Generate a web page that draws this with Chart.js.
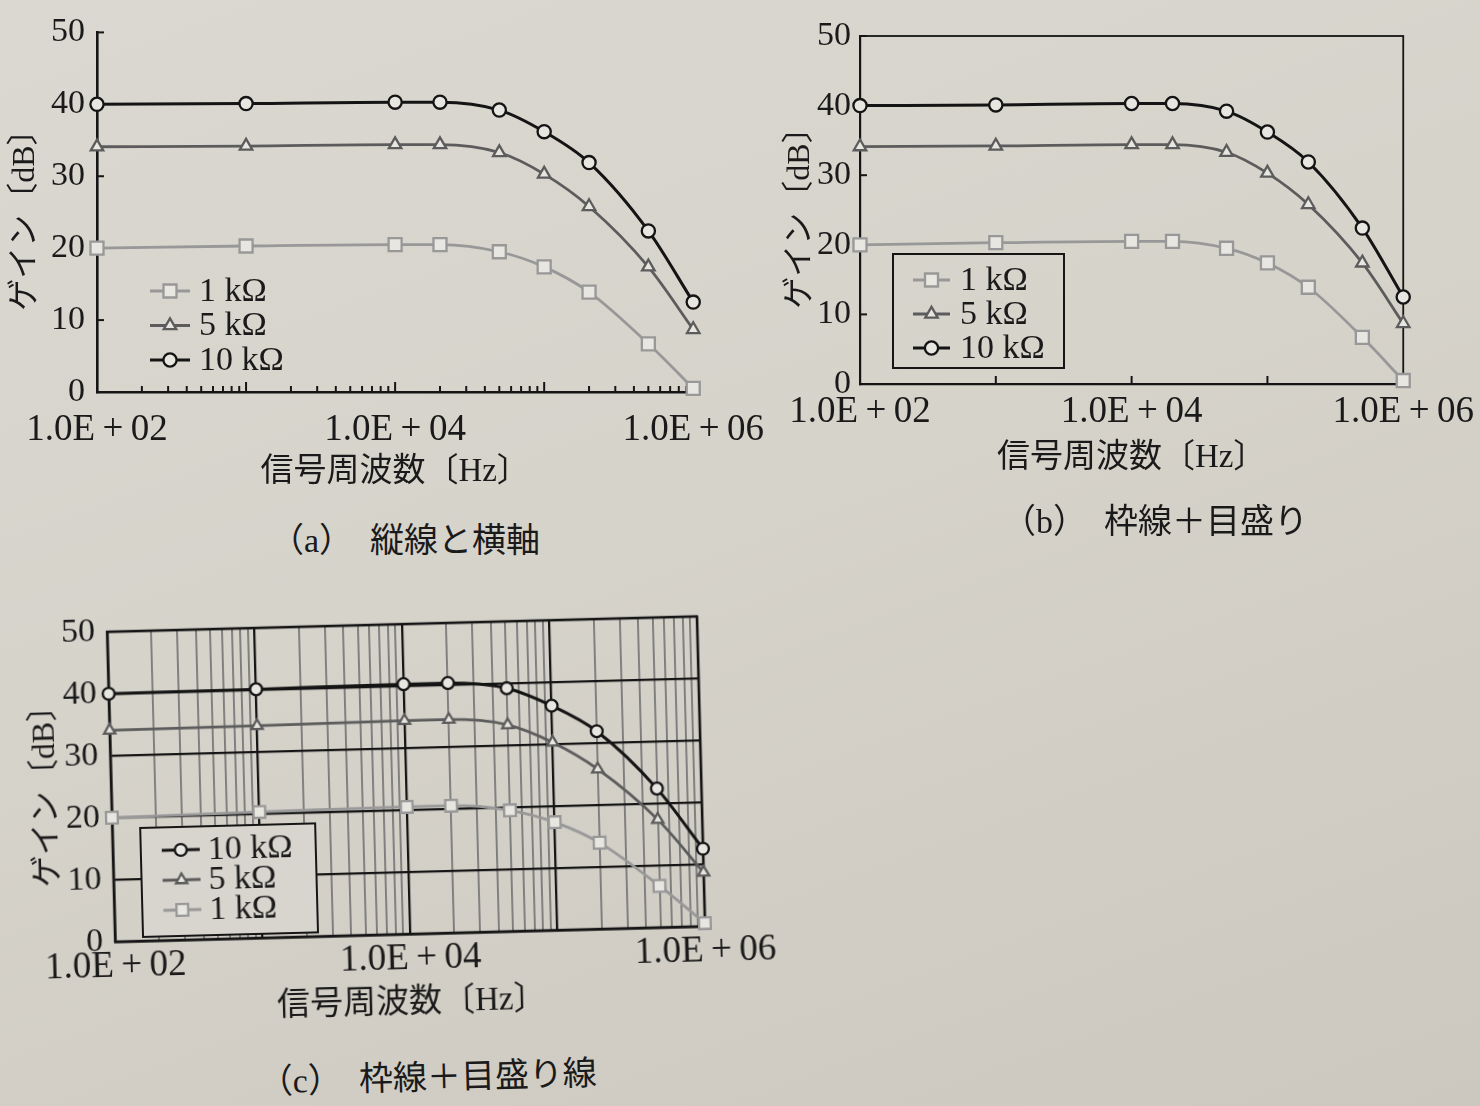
<!DOCTYPE html>
<html>
<head>
<meta charset="utf-8">
<script src="https://cdn.jsdelivr.net/npm/chart.js@4/dist/chart.umd.min.js"></script>
<style>
html,body{margin:0;padding:0;}
body{width:1480px;height:1106px;overflow:hidden;position:relative;
  background:linear-gradient(160deg,#dbd8d1 0%,#d6d3cb 45%,#ccc8c0 100%);}
.box{position:absolute;}
canvas{display:block;}
.cap{position:absolute;font-size:34px;font-family:'Liberation Serif','Noto Sans CJK JP',sans-serif;color:#1a1a1a;
  white-space:nowrap;transform:translate(-50%,-50%);}
</style>
</head>
<body>
<div class="box" style="left:0;top:0;width:780px;height:500px"><canvas id="ca" width="780" height="500"></canvas></div>
<div class="cap" style="left:405px;top:537px">（a）　縦線と横軸</div>

<div class="box" style="left:780px;top:0;width:700px;height:500px"><canvas id="cb" width="700" height="500"></canvas></div>
<div class="cap" style="left:1155px;top:518px">（b）　枠線＋目盛り</div>

<div class="box" id="boxc" style="left:0;top:570px;width:800px;height:530px;transform-origin:406px 209px;transform:rotate(-1.5deg)">
  <canvas id="cc" width="800" height="470"></canvas>
  <div class="cap" style="left:420px;top:505px">（c）　枠線＋目盛り線</div>
</div>

<script>
// ---------------- data ----------------
const freqHz  = [100, 1000, 10000, 20000, 50000, 100000, 200000, 500000, 1000000];
const gain10k = [40.0, 40.1, 40.3, 40.3, 39.2, 36.2, 31.9, 22.4, 12.5];
const gain5k  = [34.1, 34.2, 34.4, 34.4, 33.3, 30.3, 25.8, 17.4, 8.7];
const gain1k  = [20.0, 20.3, 20.5, 20.5, 19.5, 17.4, 13.9, 6.7, 0.5];
const seriesNames = ['10 kΩ', '5 kΩ', '1 kΩ'];
const xTickValues = [100, 10000, 1000000];
const xTickLabels = ['1.0E\u2009+\u200902', '1.0E\u2009+\u200904', '1.0E\u2009+\u200906'];
const yTickValues = [0, 10, 20, 30, 40, 50];
const xAxisTitle = '信号周波数〔Hz〕';
const yAxisTitle = 'ゲイン〔dB〕';

// ---------------- styles ----------------
const TXT = '#1a1a1a';
const MARKER_FILL = '#e8e6e1';
const PAPER = '#d8d5ce';
const NUM_FONT = "'Liberation Serif','Times New Roman',serif";
const JP_FONT = "'Liberation Serif','Noto Sans CJK JP',sans-serif";
const seriesValues = [gain10k, gain5k, gain1k];
const seriesStyle = [
  {color:'#141414', width:3.0, point:'circle',   r:6.6},
  {color:'#5c5c5c', width:2.8, point:'triangle', r:7.2},
  {color:'#989898', width:2.8, point:'rect',     r:9.2}
];

Chart.defaults.color = TXT;
Chart.defaults.font.family = NUM_FONT;

function isDecade(v){ const l = Math.log10(v); return Math.abs(l - Math.round(l)) < 1e-9; }
function logTickValues(min, max){
  const out = [];
  for (let e = Math.round(Math.log10(min)); e <= Math.round(Math.log10(max)); e++)
    for (let m = 1; m <= 9; m++){ const v = m*Math.pow(10,e); if (v >= min*(1-1e-9) && v <= max*(1+1e-9)) out.push(v); }
  return out;
}

// frame + inside tick marks
const decorPlugin = {
  id:'decor',
  beforeDatasetsDraw(chart, args, o){
    const {ctx, chartArea:a, scales:{x, y}} = chart;
    ctx.save();
    ctx.strokeStyle = '#151515';
    ctx.lineCap = 'butt';
    const line = (x1,y1,x2,y2)=>{ctx.beginPath();ctx.moveTo(x1,y1);ctx.lineTo(x2,y2);ctx.stroke();};
    if (o.ticks){
      ctx.lineWidth = o.tickW;
      x.ticks.forEach(t=>{
        if (t.value <= freqHz[0]*1.0001) return;
        const dec = isDecade(t.value);
        if (!dec && !o.minorX) return;
        const px = x.getPixelForValue(t.value);
        line(px, a.bottom, px, a.bottom - (dec ? o.majorLen : o.minorLen));
      });
      y.ticks.forEach(t=>{
        if (t.value <= 0) return;
        const py = y.getPixelForValue(t.value);
        line(a.left, py, a.left + o.yLen, py);
      });
    }
    if (o.frame){
      ctx.lineWidth = o.frameW;
      ctx.strokeRect(a.left, a.top, a.right - a.left, a.bottom - a.top);
    }
    ctx.restore();
  }
};

// legend with line + marker samples
const legendPlugin = {
  id:'lineLegend',
  afterDatasetsDraw(chart, args, o){
    const ctx = chart.ctx;
    ctx.save();
    if (o.box){
      const [bx,by,bw,bh] = o.box;
      if (o.fill){ ctx.fillStyle = o.fill; ctx.fillRect(bx,by,bw,bh); }
      ctx.strokeStyle = '#151515'; ctx.lineWidth = 2;
      ctx.strokeRect(bx,by,bw,bh);
    }
    o.order.forEach((di,k)=>{
      const ds = chart.data.datasets[di];
      const yy = o.y + k*o.dy;
      ctx.strokeStyle = ds.borderColor; ctx.lineWidth = ds.borderWidth;
      ctx.beginPath(); ctx.moveTo(o.x, yy); ctx.lineTo(o.x + o.len, yy); ctx.stroke();
      ctx.fillStyle = MARKER_FILL; ctx.strokeStyle = ds.pointBorderColor; ctx.lineWidth = ds.pointBorderWidth;
      Chart.helpers.drawPoint(ctx, {pointStyle:ds.pointStyle, radius:ds.pointRadius, borderWidth:ds.pointBorderWidth, rotation:0}, o.x + o.len/2, yy);
      ctx.fillStyle = TXT; ctx.font = o.fontSize + 'px ' + NUM_FONT;
      ctx.textBaseline = 'middle'; ctx.textAlign = 'left';
      ctx.fillText(ds.label, o.x + o.len + o.gap, yy + 1);
    });
    ctx.restore();
  }
};

function makeChart(id, c){
  const datasets = seriesValues.map((vals, i)=>({
    label: seriesNames[i],
    data: freqHz.map((f, j)=>({x:f, y:vals[j]})),
    borderColor: seriesStyle[i].color,
    borderWidth: seriesStyle[i].width,
    backgroundColor: MARKER_FILL,
    pointStyle: seriesStyle[i].point,
    pointRadius: seriesStyle[i].r * c.mk,
    pointBorderWidth: 2.3,
    pointBackgroundColor: MARKER_FILL,
    pointBorderColor: seriesStyle[i].color,
    cubicInterpolationMode: 'monotone',
    fill: false,
    clip: false
  }));
  return new Chart(document.getElementById(id), {
    type:'line',
    data:{datasets},
    plugins:[decorPlugin, legendPlugin],
    options:{
      responsive:false, animation:false, devicePixelRatio:1,
      layout:{autoPadding:false, padding:{left:0, top:c.top, right:c.right, bottom:0}},
      plugins:{
        legend:{display:false}, tooltip:{enabled:false},
        decor:c.decor, lineLegend:c.legend
      },
      scales:{
        x:{
          type:'logarithmic', min:freqHz[0], max:freqHz[freqHz.length-1],
          afterFit:s=>{s.height = c.xH;},
          afterBuildTicks:s=>{s.ticks = logTickValues(freqHz[0], freqHz[freqHz.length-1]).map(v=>({value:v, major:isDecade(v)}));},
          ticks:{autoSkip:false, maxRotation:0, minRotation:0, padding:c.xPad, color:TXT,
            font:{family:NUM_FONT, size:c.xFont},
            callback:(v)=>{ const i = xTickValues.findIndex(t=>Math.abs(t - v)/t < 1e-6); return i >= 0 ? xTickLabels[i] : ''; }},
          grid:{display:c.grid, drawTicks:false,
            color:ctx=> (ctx.tick && isDecade(ctx.tick.value)) ? '#151515' : '#7c7c7c',
            lineWidth:ctx=> (ctx.tick && isDecade(ctx.tick.value)) ? 2.3 : 1.9},
          border:{display:true, color:'#151515', width:c.axisW},
          title:{display:true, text:xAxisTitle, color:TXT, font:{family:JP_FONT, size:33}, padding:{top:0, bottom:c.xTitlePad}}
        },
        y:{
          min:0, max:50,
          afterFit:s=>{s.width = c.yW;},
          afterBuildTicks:s=>{s.ticks = yTickValues.map(v=>({value:v}));},
          ticks:{padding:c.yPad, color:TXT, font:{family:NUM_FONT, size:c.yFont}},
          grid:{display:c.grid, drawTicks:false, color:'#151515', lineWidth:2.2},
          border:{display:true, color:'#151515', width:c.axisW},
          title:{display:true, text:yAxisTitle, color:TXT, font:{family:JP_FONT, size:32}, padding:{top:c.yTitlePad, bottom:0}}
        }
      }
    }
  });
}

// (a) axes only
makeChart('ca', {
  top:30, right:86, yW:97, xH:108, xPad:16, yPad:12, xFont:37, yFont:34, xTitlePad:8, yTitlePad:6,
  axisW:2.6, grid:false, mk:1,
  decor:{ticks:true, tickW:2, majorLen:10, minorLen:6, minorX:true, yLen:7, frame:false},
  legend:{x:150, y:291, dy:34.5, len:40, gap:9, fontSize:34, order:[2,1,0]}
});

// (b) frame + ticks
makeChart('cb', {
  top:36, right:67, yW:80, xH:116, xPad:6, yPad:9, xFont:37, yFont:34, xTitlePad:22, yTitlePad:1,
  axisW:2.2, grid:false, mk:1,
  decor:{ticks:true, tickW:2, majorLen:8, minorLen:0, minorX:false, yLen:7, frame:true, frameW:1.8},
  legend:{x:133, y:280, dy:34, len:37, gap:10, fontSize:34, order:[2,1,0], box:[113,254,171,114]}
});

// (c) frame + grid lines
makeChart('cc', {
  top:54, right:99, yW:111, xH:106, xPad:3, yPad:12, xFont:37, yFont:34, xTitlePad:17, yTitlePad:27,
  axisW:2.4, grid:true, mk:0.9,
  decor:{ticks:false, frame:true, frameW:2.4},
  legend:{x:160, y:274, dy:30, len:38, gap:8, fontSize:34, order:[0,1,2], box:[139,251,175,109], fill:PAPER}
});
</script>
</body>
</html>
